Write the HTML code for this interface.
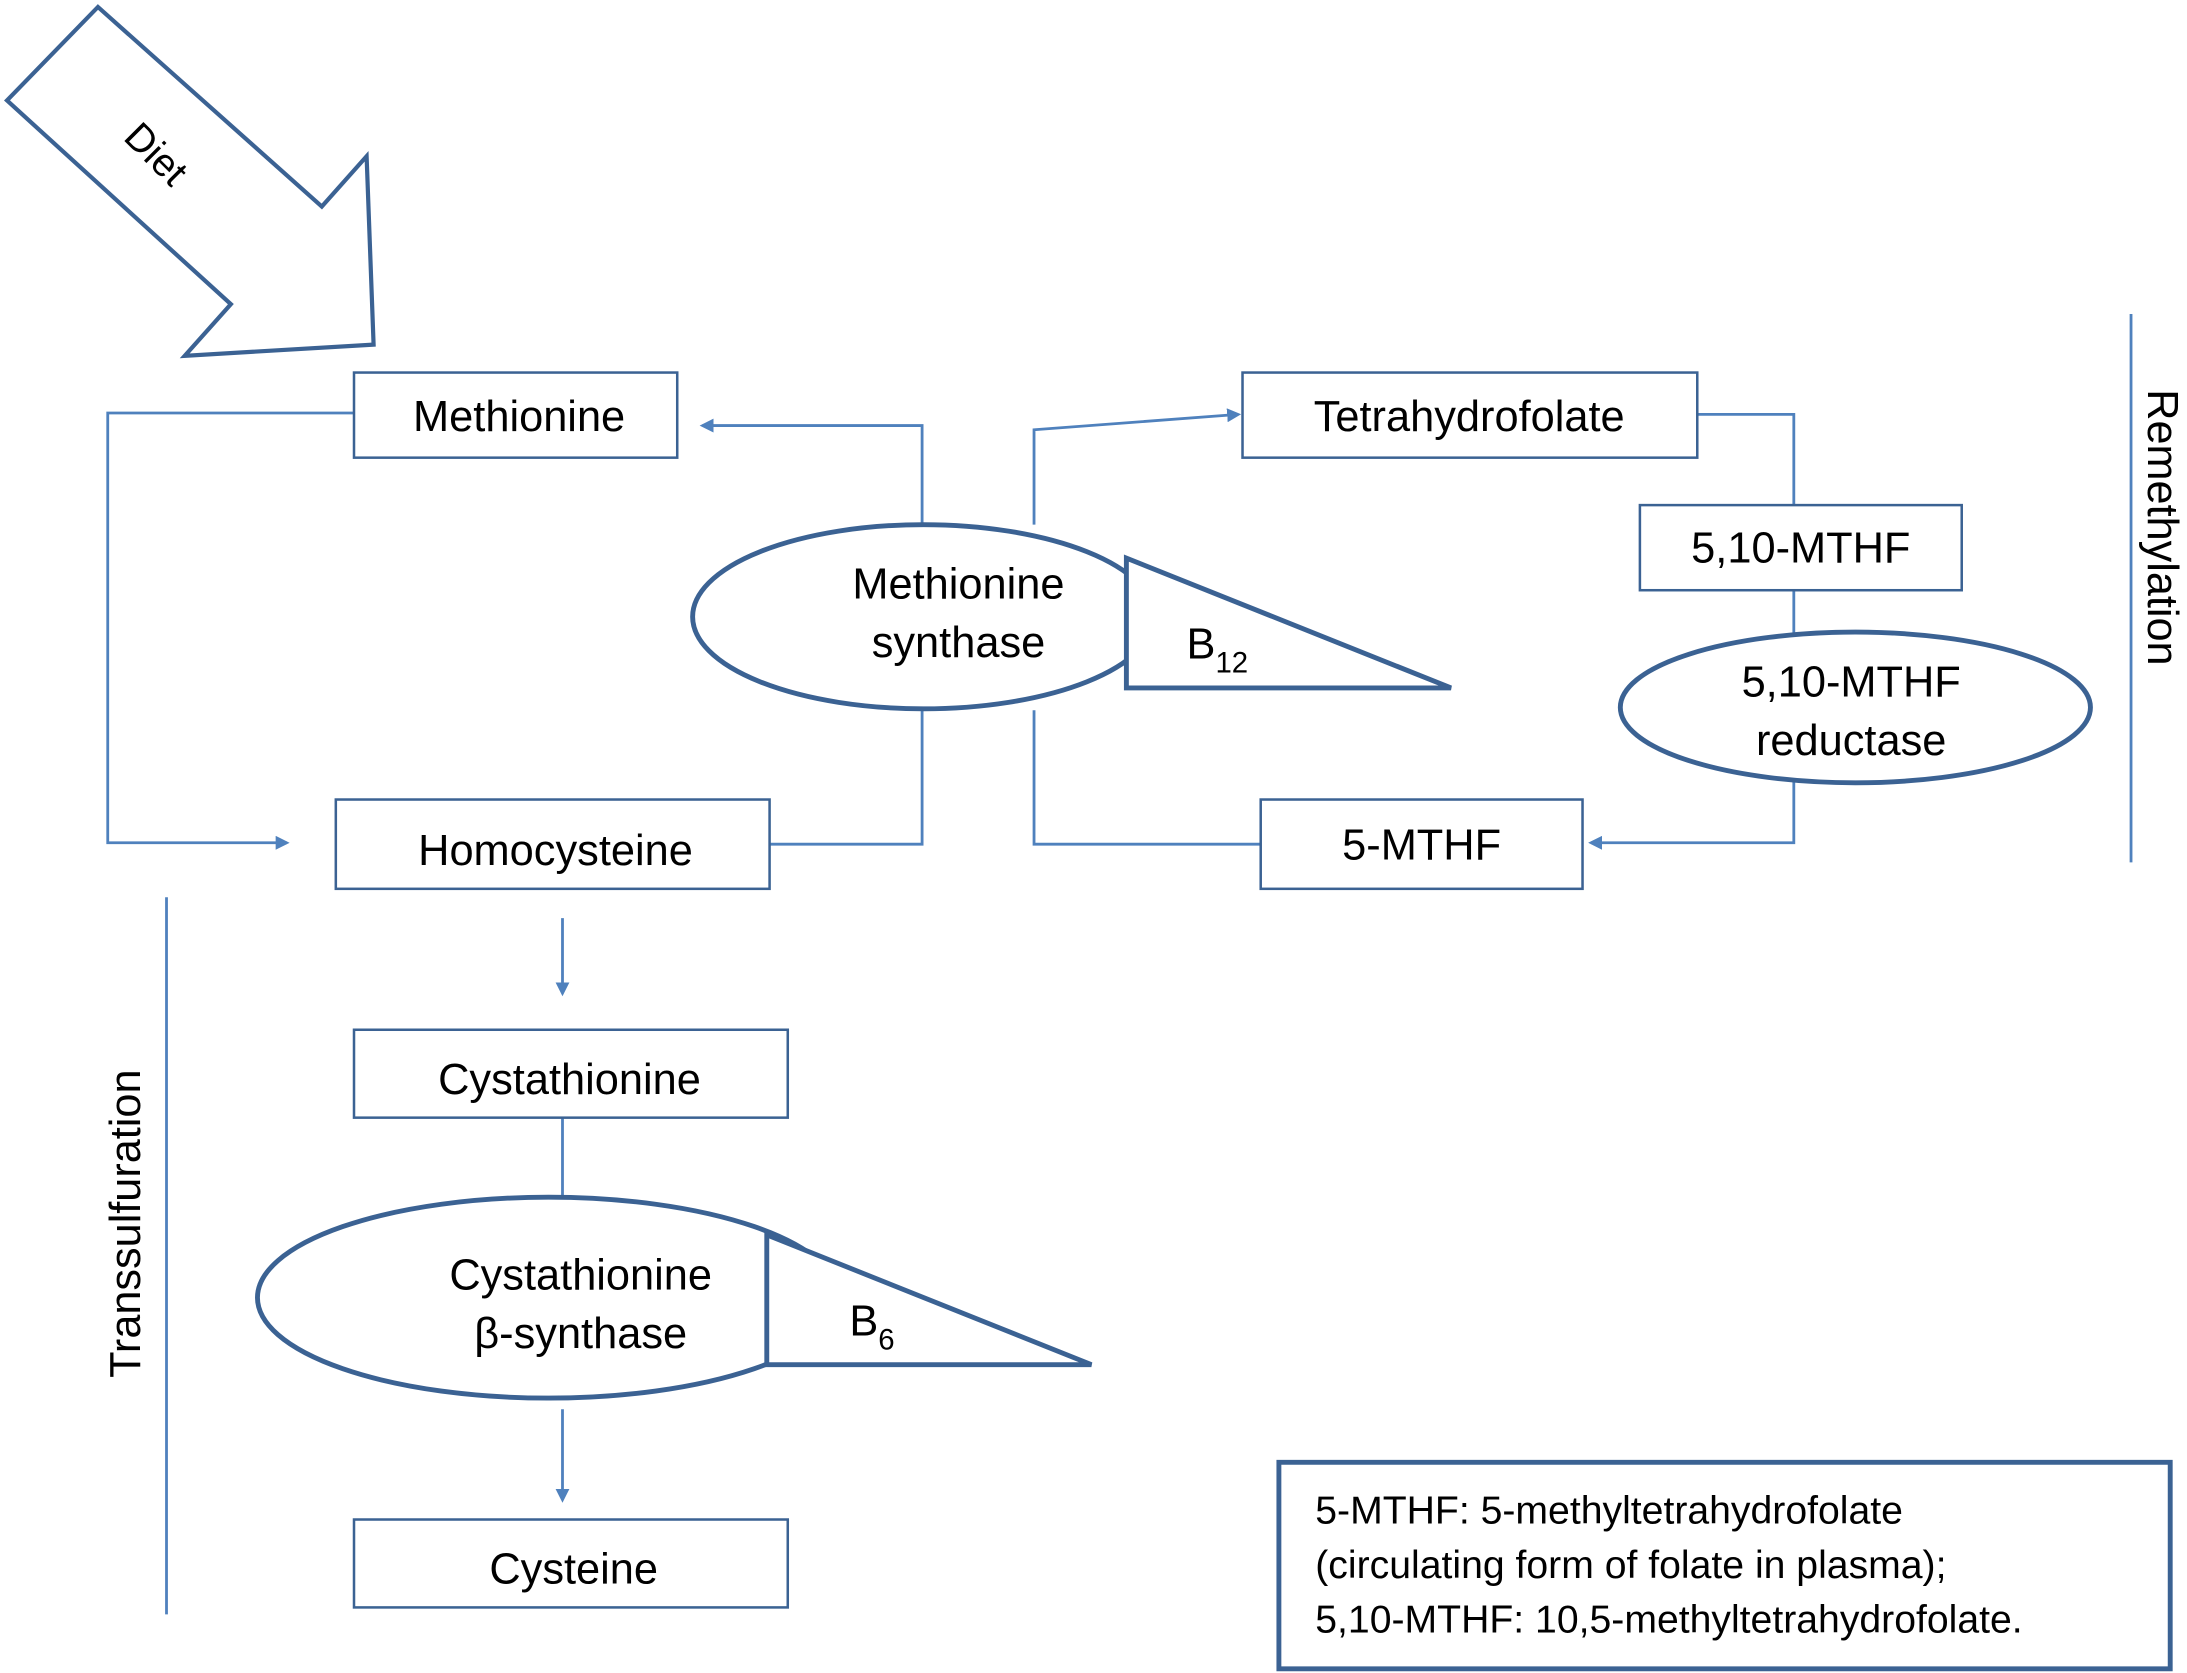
<!DOCTYPE html>
<html><head><meta charset="utf-8"><style>html,body{margin:0;padding:0;background:#fff}svg{display:block}</style></head><body>
<svg width="2187" height="1673" viewBox="0 0 1563 1199" preserveAspectRatio="none" xmlns="http://www.w3.org/2000/svg" font-family="'Liberation Sans', sans-serif" fill="#000">
<defs>
<marker id="a" markerWidth="10" markerHeight="10" refX="8" refY="5" orient="auto" markerUnits="userSpaceOnUse"><path d="M0,0 L10,5 L0,10 z" fill="#4f81bd"/></marker>
</defs>
<g fill="none" stroke="#4f81bd" stroke-width="2">
<polyline points="253,296 77,296 77,604 205,604" marker-end="url(#a)"/>
<polyline points="659,376 659,305 502,305" marker-end="url(#a)"/>
<polyline points="739,376 739,308 885,297" marker-end="url(#a)"/>
<polyline points="1213,297 1282,297 1282,604 1137,604" marker-end="url(#a)"/>
<polyline points="901,605 739,605 739,509"/>
<polyline points="550,605 659,605 659,509"/>
<line x1="402" y1="658" x2="402" y2="712" marker-end="url(#a)"/>
<line x1="402" y1="801" x2="402" y2="858"/>
<line x1="402" y1="1010" x2="402" y2="1075" marker-end="url(#a)"/>
<line x1="1523" y1="225" x2="1523" y2="618"/>
<line x1="119" y1="643" x2="119" y2="1157"/>
</g>
<g fill="#fff" stroke="#3b6293" stroke-width="1.8">
<rect x="253" y="267" width="231" height="61"/>
<rect x="888" y="267" width="325" height="61"/>
<rect x="1172" y="362" width="230" height="61"/>
<rect x="240" y="573" width="310" height="64"/>
<rect x="901" y="573" width="230" height="64"/>
<rect x="253" y="738" width="310" height="63"/>
<rect x="253" y="1089" width="310" height="63"/>
</g>
<g fill="#fff" stroke="#3b6293" stroke-width="3.5">
<polygon points="5,72 70,5 230,148 262,112 267,247 132,255 165,218" stroke-width="3"/>
<ellipse cx="660" cy="442" rx="165" ry="66"/>
<polygon points="805,400 805,493 1037,493"/>
<ellipse cx="1326" cy="507" rx="168" ry="54"/>
<ellipse cx="392" cy="930" rx="208" ry="72"/>
<polygon points="548,885 548,978 780,978"/>
<rect x="914" y="1048" width="637" height="148" fill="none"/>
</g>
<g font-size="31" text-anchor="middle">
<text x="112" y="120" transform="rotate(45 112 110)" font-size="28">Diet</text>
<text x="371" y="309">Methionine</text>
<text x="1050" y="309">Tetrahydrofolate</text>
<text x="1287" y="403">5,10-MTHF</text>
<text x="397" y="620">Homocysteine</text>
<text x="1016" y="616">5-MTHF</text>
<text x="685" y="429">Methionine</text>
<text x="685" y="471">synthase</text>
<text x="1323" y="499">5,10-MTHF</text>
<text x="1323" y="541">reductase</text>
<text x="407" y="784">Cystathionine</text>
<text x="415" y="924">Cystathionine</text>
<text x="415" y="966">β-synthase</text>
<text x="410" y="1135">Cysteine</text>
<text x="848" y="472" text-anchor="start">B<tspan font-size="21" dy="10">12</tspan></text>
<text x="607" y="957" text-anchor="start">B<tspan font-size="21" dy="10">6</tspan></text>
<text x="1535" y="378" transform="rotate(90 1535 378)">Remethylation</text>
<text x="100" y="877" transform="rotate(-90 100 877)">Transsulfuration</text>
</g>
<g font-size="28">
<text x="940" y="1092">5-MTHF: 5-methyltetrahydrofolate</text>
<text x="940" y="1131">(circulating form of folate in plasma);</text>
<text x="940" y="1170">5,10-MTHF: 10,5-methyltetrahydrofolate.</text>
</g>
</svg>
</body></html>
